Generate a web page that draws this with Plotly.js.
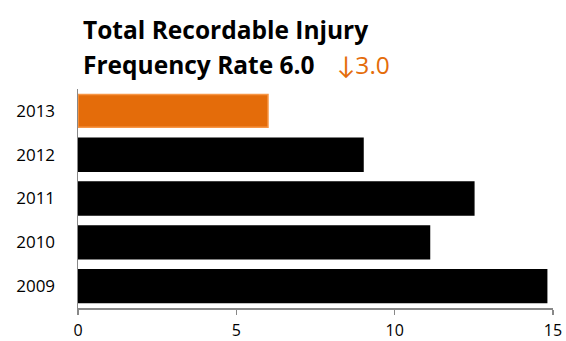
<!DOCTYPE html>
<html>
<head>
<meta charset="utf-8">
<script src="https://cdn.plot.ly/plotly-3.0.1.min.js"></script>
<style>html,body{margin:0;padding:0;background:#fff;}#chart{width:566px;height:341px;}</style>
</head>
<body>
<div id="chart"></div>
<script>
const years = ['2009', '2010', '2011', '2012', '2013'];
const values = [14.8, 11.1, 12.5, 9.0, 6.0];
const xTicks = [0, 5, 10, 15];
const titleLine1 = 'Total Recordable Injury';
const titleLine2 = 'Frequency Rate 6.0';
const changeText = '↓3.0';

const barColors = years.map(y => y === '2013' ? '#E46C0A' : '#000000');
const lineColors = years.map(y => y === '2013' ? '#F79646' : '#000000');

const FONT = '"Open Sans", Lato, sans-serif';

const data = [{
  type: 'bar',
  orientation: 'h',
  y: years,
  x: values,
  marker: {color: barColors, line: {color: lineColors, width: 1.5}},
  hoverinfo: 'none'
}];

const H = 219;
const layout = {
  width: 566, height: 341,
  margin: {l: 78, r: 13, t: 89, b: 33},
  paper_bgcolor: '#fff', plot_bgcolor: '#fff',
  showlegend: false,
  bargap: 0.25,
  font: {family: FONT, color: '#000', size: 17},
  xaxis: {
    range: [0, 15], tickvals: xTicks, ticktext: xTicks.map(String),
    showgrid: false, zeroline: false,
    showline: true, linecolor: '#888', linewidth: 1.5,
    ticks: 'outside', ticklen: 5, tickcolor: '#888', tickwidth: 1.5,
    ticklabelstandoff: 2,
    tickfont: {size: 16}
  },
  yaxis: {
    type: 'category', range: [-0.5, 4.5],
    showgrid: false, zeroline: false,
    showline: true, linecolor: '#888', linewidth: 1.5,
    ticks: '', ticklabelstandoff: 18,
    tickfont: {size: 17}
  },
  annotations: [
    {xref: 'paper', yref: 'paper', x: 3/475, y: 1 + (89-11)/H, xanchor: 'left', yanchor: 'top',
     text: '<b>' + titleLine1 + '</b>', showarrow: false, font: {size: 24.5, color: '#000', family: FONT}},
    {xref: 'paper', yref: 'paper', x: 3/475, y: 1 + (89-46)/H, xanchor: 'left', yanchor: 'top',
     text: '<b>' + titleLine2 + '</b>', showarrow: false, font: {size: 24.5, color: '#000', family: FONT}},
    {xref: 'paper', yref: 'paper', x: (335-78)/475, y: 1 + (89-46)/H, xanchor: 'left', yanchor: 'top',
     text: changeText, showarrow: false, font: {size: 24.5, color: '#E46C0A', family: FONT}}
  ]
};

Plotly.newPlot('chart', data, layout, {displayModeBar: false, staticPlot: true});
</script>
</body>
</html>
